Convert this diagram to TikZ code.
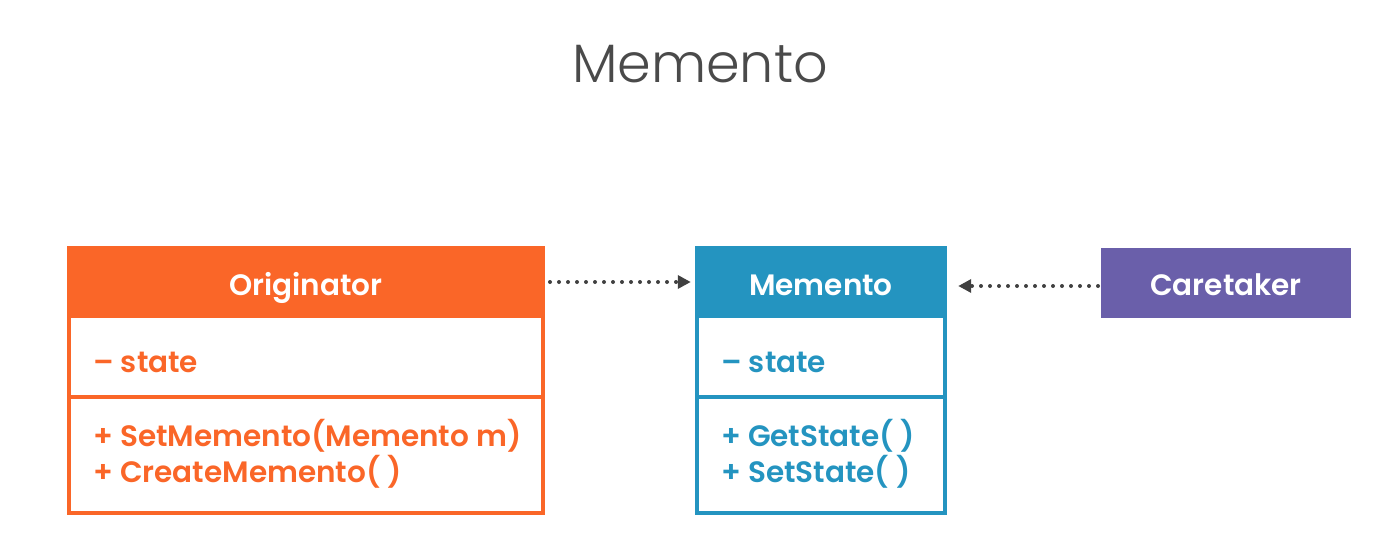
\documentclass[tikz,border=0pt]{standalone}
\usepackage{fontspec}
\setmainfont{Poppins}[UprightFont=* SemiBold]
\newfontfamily\titlefont{Poppins}[UprightFont=* Light]
\usetikzlibrary{arrows.meta}
\definecolor{cOrange}{HTML}{FA6628}
\definecolor{cBlue}{HTML}{2494C0}
\definecolor{cPurple}{HTML}{6A5FAA}
\definecolor{cArrow}{HTML}{404040}
\definecolor{cTitle}{HTML}{4A4A4A}
\tikzset{
  hdrbox/.style={rectangle, inner sep=0pt},
  hdrtext/.style={anchor=base, inner sep=0pt, text=white, font=\fontsize{29.5}{36}\selectfont},
  rowtext/.style={anchor=base west, inner sep=0pt, font=\fontsize{29.5}{36}\selectfont},
  frame/.style={line width=4pt},
  dep/.style={cArrow, line width=4pt, line cap=round, dash pattern=on 0pt off 9pt, -{Triangle[length=13pt,width=13pt]}},
}
\begin{document}
\begin{tikzpicture}[x=1pt,y=-1pt]
\useasboundingbox (0,0) rectangle (1400,557);
% title
\node[anchor=base, inner sep=0pt, font=\titlefont\fontsize{54}{60}\selectfont, text=cTitle] (title) at (700,82) {Memento};
% Originator
\draw[frame, cOrange] (69,248) rectangle (543,513);
\node[hdrbox, fill=cOrange, minimum width=478pt, minimum height=72pt] (orig) at (306,282) {};
\node[hdrtext] (origname) at (306,295) {Originator};
\draw[frame, cOrange] (69,397) -- (543,397);
\node[rowtext, text=cOrange] (origattr) at (93,372) {– state};
\node[rowtext, text=cOrange] (origop1) at (93,446) {+ SetMemento(Memento m)};
\node[rowtext, text=cOrange] (origop2) at (93,482) {+ CreateMemento( )};
% Memento
\draw[frame, cBlue] (697,248) rectangle (945,513);
\node[hdrbox, fill=cBlue, minimum width=252pt, minimum height=72pt] (mem) at (821,282) {};
\node[hdrtext] (memname) at (821,295) {Memento};
\draw[frame, cBlue] (697,397) -- (945,397);
\node[rowtext, text=cBlue] (memattr) at (721,372) {– state};
\node[rowtext, text=cBlue] (memop1) at (721,446) {+ GetState( )};
\node[rowtext, text=cBlue] (memop2) at (721,482) {+ SetState( )};
% Caretaker
\node[hdrbox, fill=cPurple, minimum width=250pt, minimum height=70pt] (care) at (1226,283) {};
\node[hdrtext] (carename) at (1226,295) {Caretaker};
% connectors
\coordinate (a1) at (550,282);
\coordinate (c1) at (1098,286);
\draw[dep, shorten >=4pt] (a1) -- (mem.west |- a1);
\draw[dep, shorten >=11pt] (c1) -- (mem.east |- c1);
\end{tikzpicture}
\end{document}
